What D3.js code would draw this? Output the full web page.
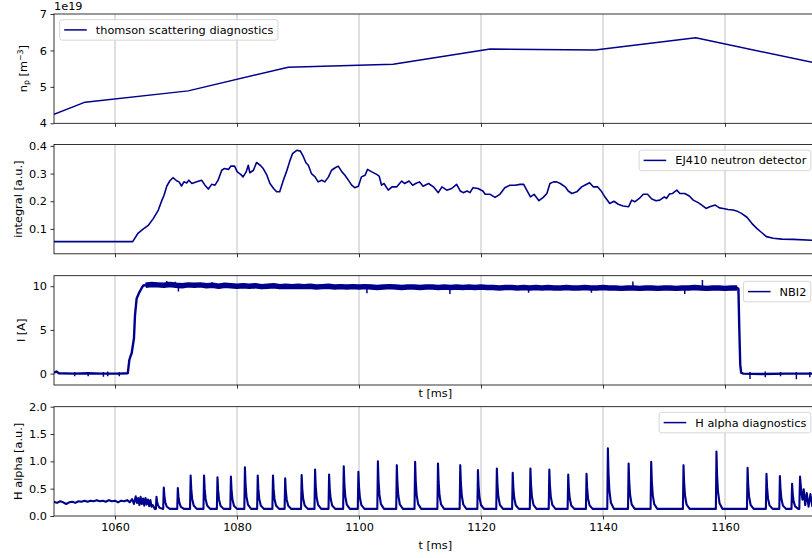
<!DOCTYPE html>
<html>
<head>
<meta charset="utf-8">
<script src="https://cdn.jsdelivr.net/npm/d3@7/dist/d3.min.js"></script>
<style>
  html, body { margin: 0; padding: 0; background: #fff; }
  svg { display: block; }
  text { font-family: "DejaVu Sans", sans-serif; fill: #000; }
</style>
</head>
<body>
<svg id="chart" width="812" height="558"></svg>
<script>
// ---- shared time axis ----
const xDomain = [1050, 1175];
const xTicks = [1060, 1080, 1100, 1120, 1140, 1160];

// ---- Thomson scattering density (m^-3) ----
const thomsonT = [1050, 1055.1, 1072.0, 1088.4, 1105.6, 1121.5, 1138.7, 1155.2, 1180];
const thomsonN = [4.25e19, 4.58e19, 4.89e19, 5.54e19, 5.62e19, 6.04e19, 6.01e19, 6.35e19, 5.47e19];
const thomsonTicks = [4e19, 5e19, 6e19, 7e19];

// ---- EJ410 neutron detector integral (a.u.) ----
const neutronT = [1050, 1062.9, 1063.8, 1064.6, 1065.5, 1066.3, 1067.1, 1067.7, 1068.0, 1068.5, 1069.0, 1069.5,
  1070.1, 1070.5, 1070.9, 1071.3, 1071.75, 1072.1, 1072.6, 1073.4, 1074.2, 1074.75, 1075.3, 1075.85, 1076.4,
  1076.9, 1077.5, 1077.9, 1078.6, 1079.0, 1079.6, 1080.05, 1080.6, 1081.0, 1081.5, 1081.85, 1082.1, 1082.7,
  1083.2, 1083.8, 1084.3, 1084.9, 1085.4, 1086.0, 1086.5, 1087.0, 1087.6, 1088.1, 1088.7, 1089.1, 1089.8,
  1090.4, 1090.9, 1091.3, 1091.7, 1092.2, 1092.8, 1093.3, 1093.9, 1094.4, 1095.0, 1095.5, 1096.1, 1096.6,
  1097.2, 1097.7, 1098.2, 1098.8, 1099.3, 1099.9, 1100.4, 1101.0, 1101.4, 1102.1, 1102.9, 1103.3, 1103.7,
  1104.1, 1104.8, 1105.4, 1106.2, 1107.0, 1107.5, 1108.2, 1108.8, 1109.3, 1109.9, 1110.5, 1111.4, 1112.2,
  1113.0, 1113.6, 1114.4, 1115.2, 1116.0, 1116.6, 1117.1, 1117.7, 1118.2, 1118.7, 1119.5, 1120.3, 1120.7,
  1121.5, 1122.3, 1123.1, 1123.9, 1124.75, 1125.6, 1126.4, 1127.0, 1127.5, 1128.1, 1128.7, 1129.5, 1130.2,
  1130.8, 1131.3, 1131.9, 1132.4, 1133.0, 1133.8, 1134.3, 1134.9, 1135.7, 1136.5, 1137.0, 1137.8, 1138.4,
  1139.1, 1139.8, 1140.3, 1141.1, 1141.8, 1142.5, 1143.3, 1144.2, 1144.7, 1145.2, 1145.95, 1146.6, 1147.3,
  1148.0, 1148.7, 1149.3, 1150.05, 1150.4, 1150.9, 1151.4, 1152.1, 1152.6, 1153.4, 1154.15, 1154.8, 1155.6,
  1156.2, 1156.9, 1157.5, 1158.4, 1159.1, 1159.7, 1160.5, 1161.3, 1161.9, 1162.7, 1163.6, 1164.4, 1165.2,
  1166.0, 1166.8, 1167.9, 1169.3, 1171.2, 1174.2, 1176];
const neutronV = [0.054, 0.054, 0.085, 0.099, 0.114, 0.138, 0.168, 0.204, 0.219, 0.255, 0.274, 0.285,
  0.274, 0.270, 0.255, 0.270, 0.266, 0.276, 0.264, 0.270, 0.276, 0.258, 0.244, 0.261, 0.258,
  0.276, 0.312, 0.318, 0.315, 0.327, 0.327, 0.306, 0.297, 0.288, 0.306, 0.330, 0.303, 0.312,
  0.340, 0.330, 0.318, 0.294, 0.264, 0.246, 0.234, 0.234, 0.276, 0.306, 0.348, 0.372, 0.384,
  0.381, 0.360, 0.339, 0.330, 0.300, 0.288, 0.270, 0.276, 0.270, 0.288, 0.312, 0.321, 0.327,
  0.306, 0.294, 0.278, 0.258, 0.249, 0.254, 0.288, 0.294, 0.315, 0.306, 0.297, 0.291, 0.258,
  0.264, 0.240, 0.252, 0.252, 0.273, 0.264, 0.273, 0.258, 0.264, 0.270, 0.254, 0.264, 0.252,
  0.231, 0.252, 0.240, 0.246, 0.261, 0.237, 0.231, 0.237, 0.231, 0.249, 0.246, 0.237, 0.225,
  0.225, 0.214, 0.225, 0.249, 0.258, 0.258, 0.261, 0.261, 0.240, 0.216, 0.225, 0.202, 0.214,
  0.228, 0.264, 0.270, 0.270, 0.264, 0.252, 0.237, 0.228, 0.234, 0.252, 0.258, 0.267, 0.252,
  0.252, 0.234, 0.216, 0.192, 0.200, 0.189, 0.183, 0.180, 0.204, 0.198, 0.210, 0.225, 0.225,
  0.208, 0.202, 0.204, 0.216, 0.210, 0.226, 0.228, 0.240, 0.228, 0.228, 0.219, 0.204, 0.195,
  0.186, 0.174, 0.180, 0.186, 0.176, 0.174, 0.170, 0.168, 0.165, 0.156, 0.142, 0.120, 0.102,
  0.087, 0.072, 0.066, 0.063, 0.062, 0.059, 0.058];
const neutronTicks = [0.1, 0.2, 0.3, 0.4];

// ---- NBI2 beam current (A) ----
const nbiT = [1050, 1050.4, 1050.8, 1053.3, 1055.5, 1058.0, 1060.6, 1062.1, 1062.35, 1062.55, 1062.73,
  1063.11, 1063.28, 1063.55, 1063.99, 1064.37, 1064.64, 1065.0,
  1162.0, 1162.2, 1162.35, 1162.5, 1162.65, 1163.0, 1166.0, 1170.0, 1175.0];
const nbiV = [0.1, 0.25, 0.05, 0.0, 0.05, 0.0, 0.0, 0.05, 1.56, 2.0, 2.33,
  4.05, 6.7, 8.6, 9.3, 9.77, 10.08, 10.1,
  9.8, 9.7, 5.0, 1.0, 0.1, 0.0, -0.05, 0.0, 0.0];
// dense-noise plateau, one sample per ms from 1065 to 1162
const nbiPlateauT = d3.range(1065, 1163);
const nbiPlateauV = [10.1, 10.2, 10.15, 10.1, 10.2, 10.1, 10.05, 10.15, 10.1, 10.15,
  10.05, 10.1, 10.0, 10.1, 10.05, 10.0, 10.05, 10.0, 10.05, 9.95,
  10.0, 10.05, 9.95, 10.0, 9.95, 10.0, 9.95, 10.0, 9.9, 9.95,
  10.0, 9.9, 9.95, 9.9, 9.95, 9.9, 9.95, 9.9, 9.85, 9.9,
  9.95, 9.9, 9.85, 9.9, 9.9, 9.85, 9.9, 9.9, 9.85, 9.9,
  9.85, 9.9, 9.85, 9.9, 9.85, 9.9, 9.85, 9.85, 9.8, 9.85,
  9.85, 9.8, 9.85, 9.8, 9.85, 9.8, 9.85, 9.8, 9.8, 9.85,
  9.8, 9.8, 9.85, 9.8, 9.8, 9.85, 9.8, 9.8, 9.75, 9.8,
  9.8, 9.75, 9.8, 9.8, 9.75, 9.8, 9.8, 9.75, 9.8, 9.8,
  9.85, 9.8, 9.75, 9.8, 9.8, 9.75, 9.8, 9.8];
// isolated excursions out of the noise band
const nbiSpikeT = [1068.5, 1069.9, 1070.4, 1075.9, 1101.3, 1114.9, 1127.8, 1138.1, 1144.9, 1153.4, 1156.3];
const nbiSpikeV = [10.6, 10.5, 9.4, 10.45, 9.2, 9.1, 9.25, 9.25, 10.55, 9.1, 10.7];
const nbiOffTickT = [1053.4, 1055.6, 1058.1, 1058.8, 1060.7, 1164.1, 1166.6, 1169.1, 1171.7, 1173.9];
const nbiOffTickLo = [-0.3, -0.3, -0.35, -0.3, -0.3, -0.6, -0.4, -0.3, -0.65, -0.4];
const nbiOffTickHi = [0.2, 0.15, 0.2, 0.25, 0.15, 0.2, 0.25, 0.2, 0.2, 0.2];
const nbiTicks = [0, 5, 10];

// ---- H alpha (a.u.) ----
const haPreT = [1050.0, 1050.5, 1051.0, 1051.5, 1052.0, 1052.5, 1053.0, 1053.5, 1054.0, 1054.5, 1055.0,
  1055.5, 1056.0, 1056.5, 1057.0, 1057.5, 1058.0, 1058.5, 1059.0, 1059.5, 1060.0, 1060.5, 1061.0,
  1061.5, 1062.0, 1062.4, 1062.8, 1063.1, 1063.4, 1063.6, 1063.8, 1064.0, 1064.2, 1064.4, 1064.6,
  1064.8, 1065.0, 1065.2, 1065.4, 1065.6, 1065.8, 1066.0, 1066.2, 1066.5];
const haPreV = [0.26, 0.24, 0.27, 0.25, 0.22, 0.25, 0.26, 0.24, 0.27, 0.26, 0.28,
  0.26, 0.28, 0.27, 0.29, 0.27, 0.28, 0.26, 0.29, 0.27, 0.28, 0.25, 0.28,
  0.27, 0.29, 0.25, 0.31, 0.22, 0.36, 0.24, 0.33, 0.20, 0.35, 0.22, 0.32,
  0.19, 0.33, 0.21, 0.30, 0.18, 0.29, 0.17, 0.20, 0.13];
// ELM-like bursts: onset time and peak value
const haSpikeT = [1066.8, 1068.0, 1070.3, 1072.4, 1074.6, 1076.8, 1079.0, 1081.3, 1083.4, 1085.9, 1087.9,
  1090.6, 1092.8, 1095.1, 1097.5, 1099.9, 1103.1, 1106.2, 1109.2, 1112.95, 1116.6, 1119.5, 1122.6,
  1125.2, 1128.1, 1131.2, 1134.3, 1137.3, 1140.8, 1144.2, 1147.9, 1153.2, 1158.6, 1163.7, 1166.8,
  1169.0, 1171.0];
const haSpikeV = [0.35, 0.52, 0.51, 0.74, 0.74, 0.71, 0.72, 0.89, 0.74, 0.74, 0.69,
  0.75, 0.85, 0.76, 0.91, 0.81, 1.00, 0.93, 0.99, 0.96, 0.93, 0.84, 0.87,
  0.79, 0.87, 0.85, 0.76, 0.77, 1.24, 0.96, 0.99, 0.93, 1.18, 0.88, 0.77,
  0.73, 0.59];
const haBase = 0.13;
// burst shape: time offsets (ms) and fraction of the peak above baseline
const haPulseDt = [-0.1, 0, 0.1, 0.25, 0.5, 1.0];
const haPulseFrac = [0, 1, 0.6, 0.3, 0.1, 0];
const haTailT = [1172.18, 1172.3, 1172.5, 1172.7, 1172.9, 1173.15, 1173.4, 1173.7, 1174.0, 1174.3, 1174.6, 1175.0];
const haTailV = [0.13, 0.72, 0.45, 0.30, 0.49, 0.20, 0.42, 0.17, 0.40, 0.18, 0.36, 0.20];
const haTicks = [0, 0.5, 1.0, 1.5, 2.0];

// ---- layout ----
const svg = d3.select("#chart");
const FS = 11.3;
const plotLeft = 54, plotRight = 816.5;
const panelTops = [14, 144.5, 275.7, 406.7];
const panelH = 109.3;
const lineColor = "#00008b";

const x = d3.scaleLinear().domain(xDomain).range([plotLeft, plotRight]);

const panels = [
  { domain: [4e19, 7e19], ticks: thomsonTicks, fmt: d => String(Math.round(d / 1e19)),
    label: "np", legend: "thomson scattering diagnostics", legendLoc: "left", xlabel: false, ticklabels: false },
  { domain: [0.01, 0.405], ticks: neutronTicks, fmt: d3.format(".1f"),
    label: "integral [a.u.]", legend: "EJ410 neutron detector", legendLoc: "right", xlabel: false, ticklabels: false },
  { domain: [-1.3, 11.2], ticks: nbiTicks, fmt: d3.format("d"),
    label: "I [A]", legend: "NBI2", legendLoc: "right", xlabel: true, ticklabels: false },
  { domain: [0, 2], ticks: haTicks, fmt: d3.format(".1f"),
    label: "H alpha [a.u.]", legend: "H alpha diagnostics", legendLoc: "right", xlabel: true, ticklabels: true }
];

const defs = svg.append("defs");

panels.forEach((p, i) => {
  const top = panelTops[i], bottom = top + panelH;
  p.y = d3.scaleLinear().domain(p.domain).range([bottom, top]);
  p.g = svg.append("g");
  defs.append("clipPath").attr("id", "clip" + i)
    .append("rect").attr("x", plotLeft).attr("y", top).attr("width", plotRight - plotLeft).attr("height", panelH);

  // vertical grid
  p.g.append("g").selectAll("line").data(xTicks).join("line")
    .attr("x1", d => x(d)).attr("x2", d => x(d)).attr("y1", top).attr("y2", bottom)
    .attr("stroke", "#b0b0b0").attr("stroke-width", 0.8);

  p.plot = p.g.append("g").attr("clip-path", `url(#clip${i})`);
});

// ---- data marks ----
const lineOf = (sx, sy) => d3.line().x(d => sx(d[0])).y(d => sy(d[1]));
const zip = (a, b) => a.map((v, k) => [v, b[k]]);

// panel 1: Thomson
panels[0].plot.append("path").datum(zip(thomsonT, thomsonN))
  .attr("d", lineOf(x, panels[0].y)).attr("fill", "none")
  .attr("stroke", lineColor).attr("stroke-width", 1.5).attr("stroke-linejoin", "round");

// panel 2: neutron detector
panels[1].plot.append("path").datum(zip(neutronT, neutronV))
  .attr("d", lineOf(x, panels[1].y)).attr("fill", "none")
  .attr("stroke", lineColor).attr("stroke-width", 1.6).attr("stroke-linejoin", "round");

// panel 3: NBI2
{
  const p = panels[2];
  const main = zip(nbiT, nbiV).concat(zip(nbiPlateauT, nbiPlateauV)).sort((a, b) => a[0] - b[0]);
  p.plot.append("path").datum(main).attr("d", lineOf(x, p.y)).attr("fill", "none")
    .attr("stroke", lineColor).attr("stroke-width", 2.4).attr("stroke-linejoin", "round");
  // thick stroke for the densely sampled noise band
  p.plot.append("path").datum(zip(nbiPlateauT, nbiPlateauV)).attr("d", lineOf(x, p.y)).attr("fill", "none")
    .attr("stroke", lineColor).attr("stroke-width", 5.5).attr("stroke-linejoin", "round");
  const plateauAt = t => {
    const k = Math.max(0, Math.min(nbiPlateauT.length - 1, Math.round(t - nbiPlateauT[0])));
    return nbiPlateauV[k];
  };
  p.plot.append("g").selectAll("line").data(nbiSpikeT).join("line")
    .attr("x1", d => x(d)).attr("x2", d => x(d))
    .attr("y1", d => p.y(plateauAt(d))).attr("y2", (d, k) => p.y(nbiSpikeV[k]))
    .attr("stroke", lineColor).attr("stroke-width", 1.5);
  p.plot.append("g").selectAll("line").data(nbiOffTickT).join("line")
    .attr("x1", d => x(d)).attr("x2", d => x(d))
    .attr("y1", (d, k) => p.y(nbiOffTickHi[k])).attr("y2", (d, k) => p.y(nbiOffTickLo[k]))
    .attr("stroke", lineColor).attr("stroke-width", 1.5);
}

// panel 4: H alpha
{
  const p = panels[3];
  let pts = zip(haPreT, haPreV);
  haSpikeT.forEach((t0, k) => {
    haPulseDt.forEach((dt, j) => pts.push([t0 + dt, haBase + haPulseFrac[j] * (haSpikeV[k] - haBase)]));
  });
  pts = pts.concat(zip(haTailT, haTailV)).sort((a, b) => a[0] - b[0]);
  p.plot.append("path").datum(pts).attr("d", lineOf(x, p.y)).attr("fill", "none")
    .attr("stroke", lineColor).attr("stroke-width", 2.1).attr("stroke-linejoin", "round");
}

// ---- axes, spines, labels, legends ----
panels.forEach((p, i) => {
  const top = panelTops[i], bottom = top + panelH;

  // y axis
  const ya = p.g.append("g").attr("transform", `translate(${plotLeft},0)`)
    .call(d3.axisLeft(p.y).tickValues(p.ticks).tickFormat(p.fmt).tickSize(3.5).tickPadding(3.5).tickSizeOuter(0));
  ya.select(".domain").remove();
  ya.selectAll("line").attr("stroke", "#000").attr("stroke-width", 0.8);
  ya.selectAll("text").attr("font-size", FS).attr("font-family", "DejaVu Sans").attr("fill", "#000");

  // x axis
  const xa = p.g.append("g").attr("transform", `translate(0,${bottom})`)
    .call(d3.axisBottom(x).tickValues(xTicks).tickFormat(p.ticklabels ? d3.format("d") : "")
      .tickSize(3.5).tickPadding(3.5).tickSizeOuter(0));
  xa.select(".domain").remove();
  xa.selectAll("line").attr("stroke", "#000").attr("stroke-width", 0.8);
  xa.selectAll("text").attr("font-size", FS).attr("font-family", "DejaVu Sans").attr("fill", "#000");

  // spines
  p.g.append("rect").attr("x", plotLeft).attr("y", top).attr("width", plotRight - plotLeft).attr("height", panelH)
    .attr("fill", "none").attr("stroke", "#000").attr("stroke-width", 0.8);

  // y label, right edge kept a fixed gap from the tick labels
  let tickLeft = Infinity;
  ya.selectAll("text").each(function () {
    const b = this.getBBox();
    tickLeft = Math.min(tickLeft, plotLeft - 7 - b.width);
  });
  const cy = (top + bottom) / 2;
  const lab = p.g.append("text").attr("font-size", FS).attr("text-anchor", "middle");
  let extraGap = 0;
  if (p.label === "np") {
    lab.append("tspan").text("n");
    lab.append("tspan").attr("font-size", FS * 0.7).attr("dy", 2.2).text("p");
    lab.append("tspan").attr("dy", -2.2).text(" [m");
    lab.append("tspan").attr("font-size", FS * 0.7).attr("dy", -4.2).text("\u22123");
    lab.append("tspan").attr("dy", 4.2).text("]");
    extraGap = 4;
  } else {
    lab.text(p.label);
  }
  lab.attr("transform", `translate(0,${cy}) rotate(-90)`);
  const lb = lab.node().getBBox();
  const targetRight = tickLeft - 4.5 - extraGap;
  lab.attr("transform", `translate(${targetRight - (lb.y + lb.height)},${cy}) rotate(-90)`);

  // x label
  if (p.xlabel) {
    p.g.append("text").attr("font-size", FS).attr("text-anchor", "middle")
      .attr("x", (plotLeft + plotRight) / 2).attr("y", p.ticklabels ? bottom + 33 : bottom + 12)
      .text("t [ms]");
  }

  // legend
  const pad = 0.4 * FS, handleLen = 2 * FS, handlePad = 0.8 * FS, axPad = 0.5 * FS;
  const lg = p.g.append("g");
  const box = lg.append("rect");
  const txt = lg.append("text").attr("font-size", FS).text(p.legend);
  const tw = txt.node().getComputedTextLength();
  const bw = pad + handleLen + handlePad + tw + pad;
  const bh = 20.5;
  const bx = p.legendLoc === "left" ? plotLeft + axPad : plotRight - axPad - bw;
  const by = top + axPad;
  box.attr("x", bx).attr("y", by).attr("width", bw).attr("height", bh).attr("rx", 2.5)
    .attr("fill", "#fff").attr("fill-opacity", 0.8).attr("stroke", "#cccccc").attr("stroke-width", 0.8);
  lg.append("line").attr("x1", bx + pad).attr("x2", bx + pad + handleLen)
    .attr("y1", by + bh / 2).attr("y2", by + bh / 2).attr("stroke", lineColor).attr("stroke-width", 1.5);
  txt.attr("x", bx + pad + handleLen + handlePad).attr("y", by + bh / 2).attr("dy", "0.36em");
});

// offset text for the density axis
svg.append("text").attr("font-size", FS).attr("x", plotLeft).attr("y", 9.7).text("1e19");
</script>
</body>
</html>
